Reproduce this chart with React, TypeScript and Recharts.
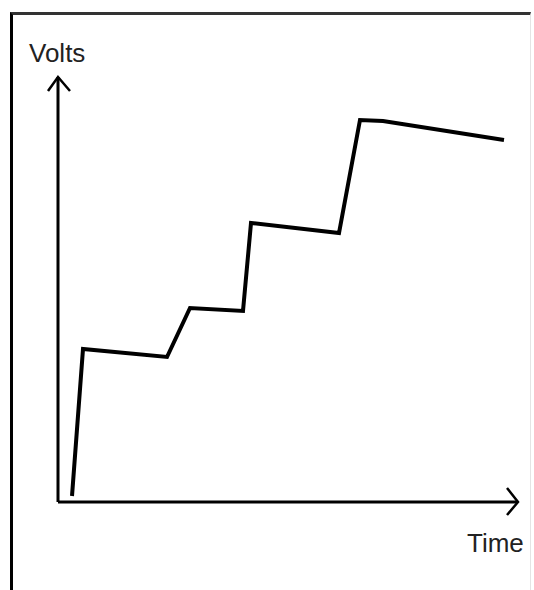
import React from "react";
import {
  LineChart,
  Line,
  XAxis,
  YAxis,
  ReferenceDot,
} from "recharts";

// time / volts (arbitrary units)
const times = [14, 25, 109, 132, 185, 193, 281, 302, 325, 446];
const volts = [6, 153, 145, 194, 191, 279, 269, 382, 381, 362];
const X_MAX = 460;
const Y_MAX = 425;

const data = times.map((t, i) => ({ t, v: volts[i] }));

const FONT = "'Liberation Sans', Arial, sans-serif";

const ArrowRight = (props: any) => {
  const { cx, cy } = props;
  return (
    <path
      d={`M${cx - 11},${cy - 14} L${cx},${cy} L${cx - 11},${cy + 13}`}
      fill="none"
      stroke="#000"
      strokeWidth={2.5}
    />
  );
};

const ArrowUp = (props: any) => {
  const { cx, cy } = props;
  return (
    <path
      d={`M${cx - 10},${cy + 14} L${cx},${cy} L${cx + 12},${cy + 14}`}
      fill="none"
      stroke="#000"
      strokeWidth={2.5}
    />
  );
};

const VoltsLabel = (props: any) => {
  const { viewBox } = props;
  return (
    <text x={viewBox.x + viewBox.width - 29} y={viewBox.y - 15} fontFamily={FONT} fontSize={26} fill="#222">
      Volts
    </text>
  );
};

const TimeLabel = (props: any) => {
  const { viewBox } = props;
  return (
    <text x={viewBox.x + viewBox.width - 51} y={viewBox.y + 50} fontFamily={FONT} fontSize={26} fill="#222">
      Time
    </text>
  );
};

export default function App() {
  return (
    <div style={{ position: "absolute", left: 0, top: 0, width: 534, height: 590, overflow: "hidden", background: "#fff" }}>
      <div
        style={{
          position: "absolute",
          left: 10,
          top: 12,
          width: 517,
          height: 620,
          borderLeft: "3px solid #000",
          borderTop: "3px solid #333",
          borderRight: "1px solid #e4e4e4",
        }}
      />
      <div style={{ position: "absolute", left: 0, top: 0 }}>
        <LineChart
          width={534}
          height={590}
          data={data}
          margin={{ top: 77, left: 28, right: 16, bottom: 28 }}
        >
          <XAxis
            dataKey="t"
            type="number"
            domain={[0, X_MAX]}
            allowDataOverflow
            height={60}
            tick={false}
            tickLine={false}
            axisLine={{ stroke: "#000", strokeWidth: 3 }}
            label={<TimeLabel />}
          />
          <YAxis
            type="number"
            domain={[0, Y_MAX]}
            allowDataOverflow
            width={30}
            tick={false}
            tickLine={false}
            axisLine={{ stroke: "#000", strokeWidth: 3 }}
            label={<VoltsLabel />}
          />
          <Line
            type="linear"
            dataKey="v"
            stroke="#000"
            strokeWidth={4}
            dot={false}
            isAnimationActive={false}
          />
          <ReferenceDot x={X_MAX} y={0} ifOverflow="visible" shape={<ArrowRight />} />
          <ReferenceDot x={0} y={Y_MAX} ifOverflow="visible" shape={<ArrowUp />} />
        </LineChart>
      </div>
    </div>
  );
}
